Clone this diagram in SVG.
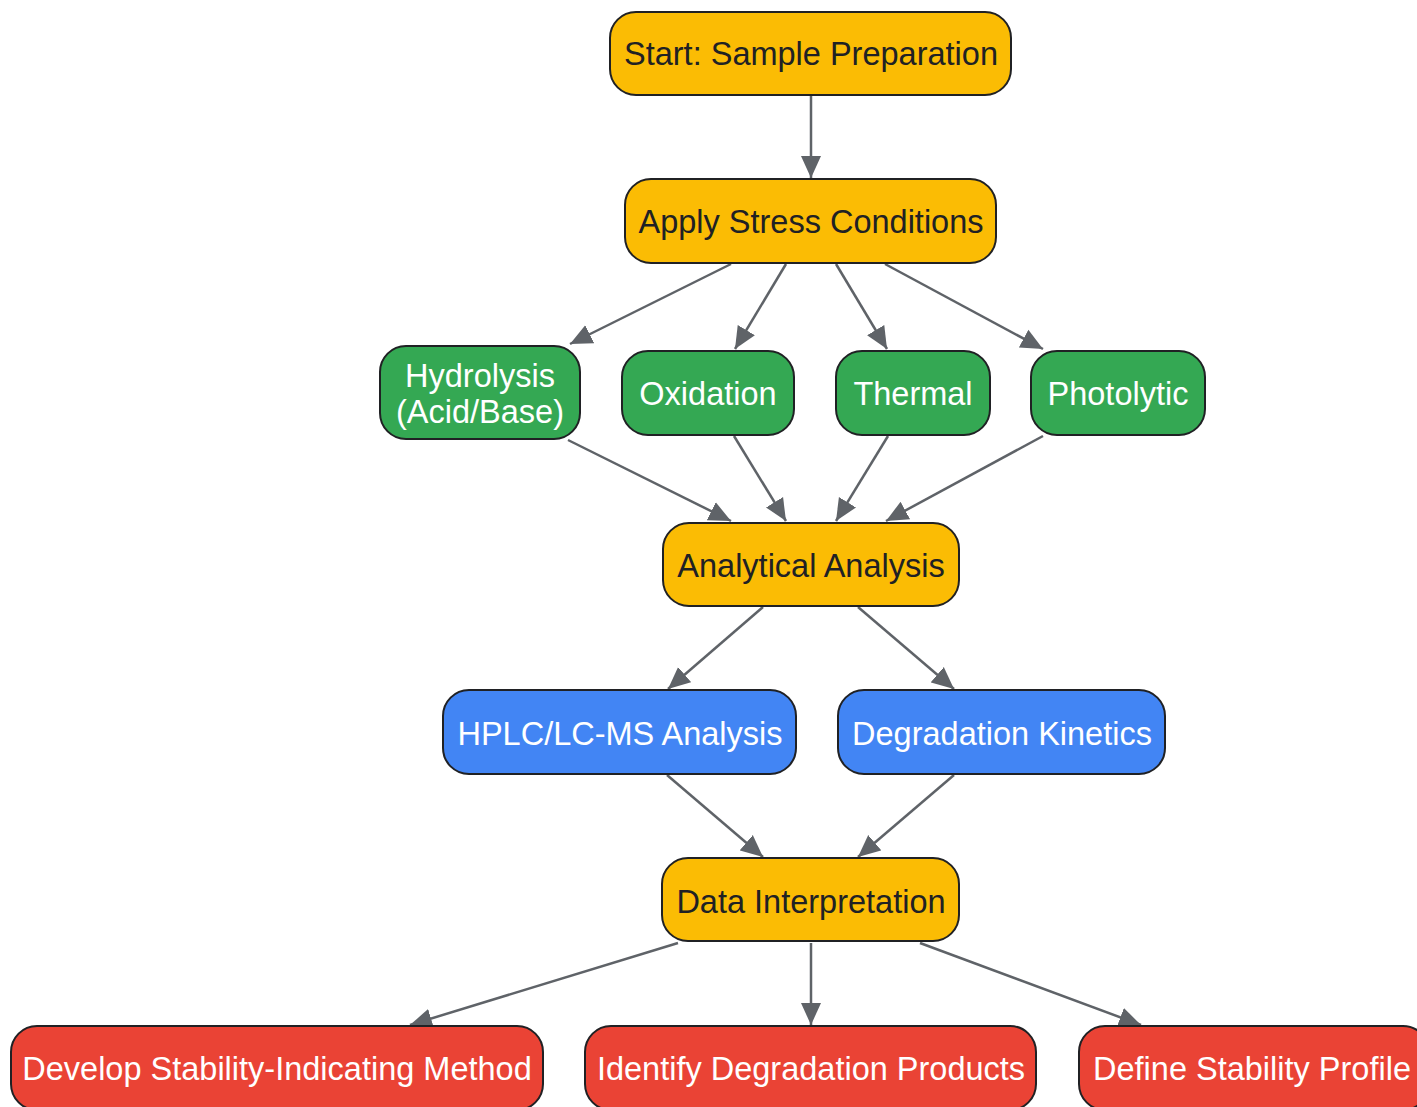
<svg xmlns="http://www.w3.org/2000/svg" width="1417" height="1107" viewBox="0 0 1417 1107">
<style>
.n rect{stroke:#202124;stroke-width:2}
.o rect{fill:#FBBC04}.g rect{fill:#34A853}.b rect{fill:#4285F4}.r rect{fill:#EA4335}
text{font-family:"Liberation Sans",Arial,sans-serif;font-size:32.5px;text-anchor:middle}
.o text{fill:#202124}.g text,.b text,.r text{fill:#ffffff}
#edges line{stroke:#5F6368;stroke-width:2.5;marker-end:url(#ah)}
</style>
<defs>
<marker id="ah" markerUnits="userSpaceOnUse" markerWidth="24" markerHeight="22" refX="22" refY="10" orient="auto" viewBox="0 0 24 20">
<path d="M0,0 L22,10 L0,20 Z" fill="#5F6368"/>
</marker>
</defs>
<rect width="1417" height="1107" fill="#ffffff"/>
<g id="edges">
<line x1="811" y1="96" x2="811" y2="178"/>
<line x1="731" y1="264" x2="570" y2="344"/>
<line x1="786" y1="264" x2="735" y2="349"/>
<line x1="836" y1="264" x2="887" y2="349"/>
<line x1="885" y1="264" x2="1043" y2="349"/>
<line x1="568" y1="440" x2="731" y2="521"/>
<line x1="734" y1="436" x2="786" y2="521"/>
<line x1="888" y1="436" x2="836" y2="521"/>
<line x1="1043" y1="436" x2="886" y2="521"/>
<line x1="763" y1="607" x2="668" y2="689"/>
<line x1="858" y1="607" x2="954" y2="689"/>
<line x1="667" y1="775" x2="763" y2="857"/>
<line x1="954" y1="775" x2="858" y2="857"/>
<line x1="678" y1="943" x2="410" y2="1025"/>
<line x1="811" y1="943" x2="811" y2="1025"/>
<line x1="920" y1="943" x2="1141" y2="1025"/>
</g>
<g id="start" class="n o"><rect x="610" y="12" width="401" height="83" rx="26"/><text x="811" y="65">Start: Sample Preparation</text></g>
<g id="stress" class="n o"><rect x="625" y="179" width="371" height="84" rx="26"/><text x="811" y="233">Apply Stress Conditions</text></g>
<g id="hydrolysis" class="n g"><rect x="380" y="346" width="200" height="93" rx="26"/><text x="480" y="387">Hydrolysis</text><text x="480" y="423">(Acid/Base)</text></g>
<g id="oxidation" class="n g"><rect x="622" y="351" width="172" height="84" rx="26"/><text x="708" y="405">Oxidation</text></g>
<g id="thermal" class="n g"><rect x="836" y="351" width="154" height="84" rx="26"/><text x="913" y="405">Thermal</text></g>
<g id="photolytic" class="n g"><rect x="1031" y="351" width="174" height="84" rx="26"/><text x="1118" y="405">Photolytic</text></g>
<g id="analytical" class="n o"><rect x="663" y="523" width="296" height="83" rx="26"/><text x="811" y="577">Analytical Analysis</text></g>
<g id="hplc" class="n b"><rect x="443" y="690" width="353" height="84" rx="26"/><text x="620" y="745">HPLC/LC-MS Analysis</text></g>
<g id="kinetics" class="n b"><rect x="838" y="690" width="327" height="84" rx="26"/><text x="1002" y="745">Degradation Kinetics</text></g>
<g id="interpretation" class="n o"><rect x="662" y="858" width="297" height="83" rx="26"/><text x="811" y="913">Data Interpretation</text></g>
<g id="develop" class="n r"><rect x="11" y="1026" width="532" height="84" rx="26"/><text x="277" y="1080">Develop Stability-Indicating Method</text></g>
<g id="identify" class="n r"><rect x="585" y="1026" width="451" height="84" rx="26"/><text x="811" y="1080">Identify Degradation Products</text></g>
<g id="define" class="n r"><rect x="1079" y="1026" width="350" height="84" rx="26"/><text x="1252" y="1080">Define Stability Profile</text></g>
</svg>
